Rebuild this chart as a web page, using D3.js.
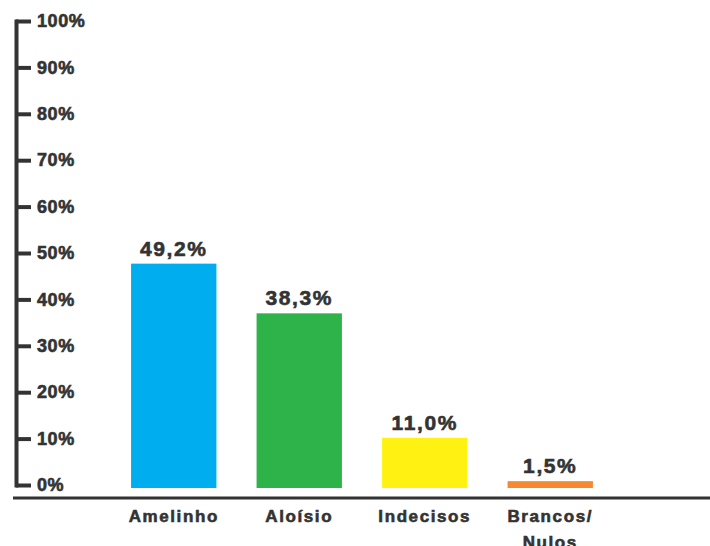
<!DOCTYPE html>
<html>
<head>
<meta charset="utf-8">
<script src="https://cdn.jsdelivr.net/npm/d3@7"></script>
<style>
  body { margin: 0; background: #fff; }
  text { font-family: "Liberation Sans", Arial, sans-serif; font-weight: bold; fill: #333; stroke: #333; stroke-width: 0.6px; }
</style>
</head>
<body>
<svg class="graph"></svg>
<script>
const categories = ["Amelinho", "Aloísio", "Indecisos", "Brancos/\nNulos"];
const values = [49.2, 38.3, 11.0, 1.5];
const colors = ["#00aeef", "#2db34a", "#fff212", "#f7882f"];
const tickValues = [0, 10, 20, 30, 40, 50, 60, 70, 80, 90, 100];

const width = 710;
const height = 546;

const svg = d3.select(".graph")
    .attr("width", width)
    .attr("height", height);

// the axis and the bars don't share exactly the same scale in the original graphic
const yAxisScale = d3.scaleLinear().domain([0, 100]).range([485, 21]);
const y = d3.scaleLinear().domain([0, 100]).range([488, 32]);
const x = d3.scaleBand()
    .domain(categories)
    .range([111, 613])
    .paddingInner(0.32)
    .paddingOuter(0.16);

const yAxis = svg.append("g")
    .attr("transform", "translate(16,0)")
    .call(d3.axisRight(yAxisScale)
      .tickValues(tickValues)
      .tickSize(15)
      .tickSizeOuter(0)
      .tickPadding(6)
      .tickFormat(d => d + "%"));

yAxis.select(".domain")
    .attr("stroke", "#333")
    .attr("stroke-width", 4)
    .attr("stroke-linecap", "square");
yAxis.selectAll(".tick line")
    .attr("stroke", "#333")
    .attr("stroke-width", 4);
yAxis.selectAll(".tick text")
    .attr("font-size", 18)
    .attr("letter-spacing", 0.6)
    .attr("fill", "#333")
    .style("font-family", "'Liberation Sans', Arial, sans-serif")
    .style("font-weight", "bold");

// baseline
svg.append("line")
    .attr("x1", 13)
    .attr("x2", width)
    .attr("y1", 498)
    .attr("y2", 498)
    .attr("stroke", "#333")
    .attr("stroke-width", 3);

svg.selectAll("rect.bar")
    .data(values)
    .enter()
  .append("rect")
    .attr("class", "bar")
    .attr("x", (d, i) => x(categories[i]))
    .attr("y", d => y(d))
    .attr("width", x.bandwidth())
    .attr("height", d => y(0) - y(d))
    .attr("fill", (d, i) => colors[i]);

svg.selectAll("text.value")
    .data(values)
    .enter()
  .append("text")
    .attr("class", "value")
    .attr("x", (d, i) => x(categories[i]) + x.bandwidth() / 2)
    .attr("y", d => y(d) - 8)
    .attr("text-anchor", "middle")
    .attr("font-size", 21)
    .attr("letter-spacing", 1.6)
    .text(d => d.toFixed(1).replace(".", ",") + "%");

const catText = svg.selectAll("text.cat")
    .data(categories)
    .enter()
  .append("text")
    .attr("class", "cat")
    .attr("x", d => x(d) + x.bandwidth() / 2)
    .attr("y", 522)
    .attr("text-anchor", "middle")
    .attr("font-size", 17)
    .attr("letter-spacing", 1.6);

catText.selectAll("tspan")
    .data(d => d.split("\n").map(s => ({ s, cx: x(d) + x.bandwidth() / 2 })))
    .enter()
  .append("tspan")
    .attr("x", d => d.cx)
    .attr("dy", (d, i) => i ? 26 : 0)
    .text(d => d.s);
</script>
</body>
</html>
